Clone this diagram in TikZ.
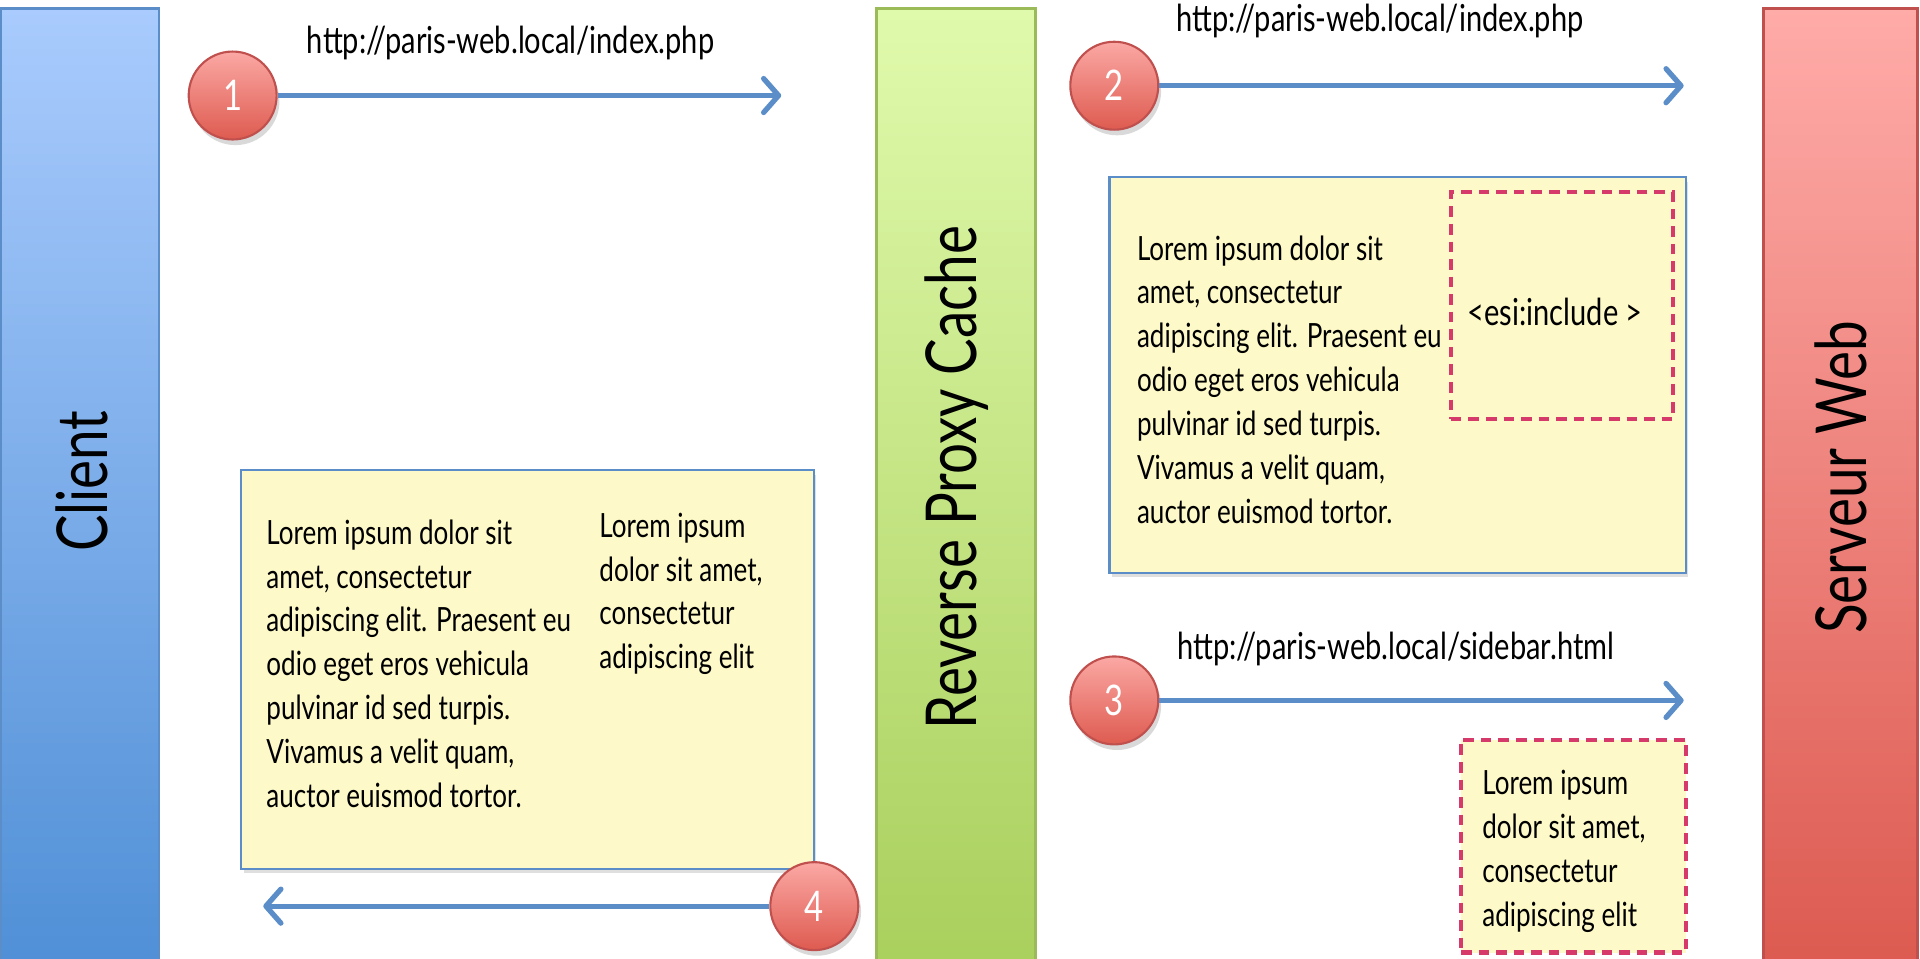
\documentclass[tikz,border=0pt]{standalone}
\usepackage{fontspec}
\setmainfont{Lato}[FakeStretch=0.78]
\usetikzlibrary{shadows,arrows.meta}
\definecolor{flowblue}{HTML}{5B8EC9}
\definecolor{notefill}{HTML}{FDF9C8}
\definecolor{esired}{HTML}{D63A6B}
\definecolor{numtop}{HTML}{FBA8A4}
\definecolor{numbot}{HTML}{DE5B50}
\definecolor{numline}{HTML}{C0504D}
\definecolor{clienttop}{HTML}{A9CBFD}
\definecolor{clientbot}{HTML}{4F8FD6}
\definecolor{proxytop}{HTML}{E0FAAC}
\definecolor{proxybot}{HTML}{A9CF5C}
\definecolor{proxyline}{HTML}{9BBB59}
\definecolor{servertop}{HTML}{FFABA8}
\definecolor{serverbot}{HTML}{DC5A50}

\begin{document}
\begin{tikzpicture}[x=0.01225cm,y=-0.01225cm,
  column/.style={rectangle,minimum width=1.59cm,minimum height=9.65cm,line width=.8pt},
  collabel/.style={rotate=90,font=\fontsize{20}{22}\selectfont},
  note/.style={rectangle,draw=flowblue,fill=notefill,line width=.6pt,
    drop shadow={opacity=.25,shadow xshift=.6pt,shadow yshift=-1.2pt}},
  esi/.style={rectangle,draw=esired,fill=notefill,line width=1.2pt,dash pattern=on 3pt off 2pt},
  body/.style={align=left,inner sep=0pt,font=\fontsize{9.5}{12.5}\selectfont},
  url/.style={font=\fontsize{10.6}{12}\selectfont},
  num/.style={circle,minimum size=.88cm,draw=numline,line width=.6pt,top color=numtop,bottom color=numbot,
    text=white,font=\fontsize{12}{14}\selectfont,
    drop shadow={opacity=.3,shadow xshift=.8pt,shadow yshift=-1.6pt}},
  flow/.style={draw=flowblue,line width=1.5pt,-{Straight Barb[round,length=1.5mm,width=3.4mm]}}]
\useasboundingbox (0,0) rectangle (1568,783);
% the three tiers
\node[column,draw=flowblue,top color=clienttop,bottom color=clientbot] (client) at (65,401) {};
\node[column,draw=proxyline,top color=proxytop,bottom color=proxybot] (proxy) at (781,401) {};
\node[column,draw=numline,minimum width=1.54cm,top color=servertop,bottom color=serverbot] (server) at (1503,401) {};
\node[collabel] (clientlabel) at (67,393) {Client};
\node[collabel] (proxylabel) at (781,390) {Reverse Proxy Cache};
\node[collabel] (serverlabel) at (1503,390) {Serveur Web};
%
% page with its esi tag
\node[note,minimum width=5.77cm,minimum height=3.96cm] (page) at (1141.5,306.5) {};
\node[esi,minimum width=2.22cm,minimum height=2.27cm] (esibox) at (1275.5,249.5) {};
\node[url] (esitext) at (1270,255) {<esi:include >};
\node[body,anchor=west] (pagetext) at (928,310) {Lorem ipsum dolor sit\\amet, consectetur\\adipiscing elit. Praesent eu\\odio eget eros vehicula\\pulvinar id sed turpis.\\Vivamus a velit quam,\\auctor euismod tortor.};
% fragment
\node[esi,minimum width=2.25cm,minimum height=2.13cm] (sidebar) at (1285,691) {};
\node[body,anchor=west] (sidebartext) at (1210,695) {Lorem ipsum\\dolor sit amet,\\consectetur\\adipiscing elit};
% assembled page
\node[note,minimum width=5.73cm,minimum height=3.99cm] (result) at (431,547) {};
\node[body,anchor=west] (resulttext) at (217,542) {Lorem ipsum dolor sit\\amet, consectetur\\adipiscing elit. Praesent eu\\odio eget eros vehicula\\pulvinar id sed turpis.\\Vivamus a velit quam,\\auctor euismod tortor.};
\node[body,anchor=west] (resultside) at (489,485) {Lorem ipsum\\dolor sit amet,\\consectetur\\adipiscing elit};
%
% requests
\node[url] (u1) at (417,35) {http://paris-web.local/index.php};
\node[url] (u2) at (1127,17) {http://paris-web.local/index.php};
\node[url] (u3) at (1140,530) {http://paris-web.local/sidebar.html};
\coordinate (e1) at (638,77);
\coordinate (e2) at (1375,72);
\coordinate (e3) at (1375,571);
\coordinate (e4) at (215,738);
\node[num] (n1) at (190,78) {1};
\node[num] (n2) at (910,70) {2};
\node[num] (n3) at (910,572) {3};
\node[num] (n4) at (665,740) {4};
\draw[flow] (n1) -- (n1 -| e1);
\draw[flow] (n2) -- (n2 -| e2);
\draw[flow] (n3) -- (n3 -| e3);
\draw[flow] (n4) -- (n4 -| e4);
\end{tikzpicture}
\end{document}
